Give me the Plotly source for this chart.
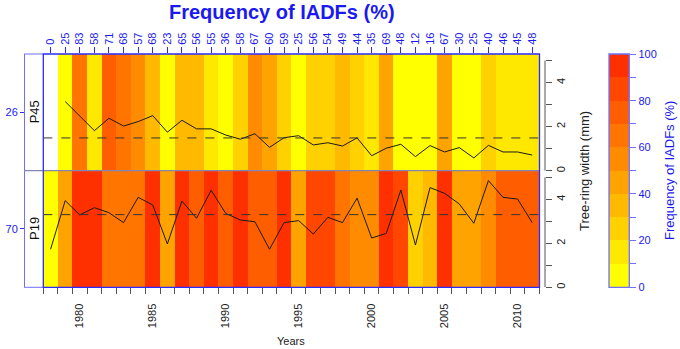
import plotly.graph_objects as go
import numpy as np

# ---------------- data ----------------
years = list(range(1978, 2012))
freq_labels = ["0", "25", "83", "58", "71", "68", "57", "68", "23", "65", "56", "55",
               "36", "58", "67", "60", "59", "25", "56", "54", "49", "44", "35", "69",
               "48", "12", "16", "67", "30", "25", "40", "46", "45", "48"]
trees = ["P45", "P19"]
tree_freq_labels = ["26", "70"]

p45_freq = [None, 5, 65, 15, 75, 68, 52, 35, 0, 32, 37, 12, 0, 22, 57, 45, 22, 5,
            25, 24, 33, 28, 15, 42, 5, 0, 0, 42, 5, 5, 25, 15, 15, 16]
p19_freq = [0, 45, 100, 100, 67, 68, 62, 100, 45, 98, 75, 98, 72, 94, 77, 75, 96, 45,
            87, 84, 65, 58, 55, 96, 88, 24, 32, 94, 48, 45, 55, 77, 75, 79]

p45_width = [None, 3.14, 2.49, 1.82, 2.38, 2.03, 2.23, 2.50, 1.75, 2.29, 1.90, 1.90,
             1.62, 1.43, 1.68, 1.06, 1.50, 1.59, 1.17, 1.27, 1.12, 1.49, 0.68, 1.02,
             1.20, 0.64, 1.14, 0.85, 1.05, 0.58, 1.15, 0.85, 0.85, 0.71]
p19_width = [1.73, 3.94, 3.29, 3.62, 3.39, 2.94, 4.09, 3.74, 1.97, 3.92, 3.14, 4.41,
             3.36, 3.06, 2.98, 1.73, 2.94, 3.03, 2.42, 3.18, 2.94, 4.05, 2.24, 2.45,
             4.42, 1.92, 4.53, 4.27, 3.79, 2.91, 4.85, 4.09, 4.01, 2.94]

cb_ticks = [0, 10, 20, 30, 40, 50, 60, 70, 80, 90, 100]
cb_labels = ["0", "", "20", "", "40", "", "60", "", "80", "", "100"]
width_ticks = [0, 1, 2, 3, 4, 5]
width_labels = ["0", "", "2", "", "4", ""]
bottom_years = [1980, 1985, 1990, 1995, 2000, 2005, 2010]

bin_colors = ["#FFFF00", "#FFE800", "#FFD100", "#FFBA00", "#FFA300",
              "#FF8C00", "#FF7500", "#FF5E00", "#FF4700", "#FF3000"]

# ---------------- styling ----------------
W, H = 680, 349
FONT = "Liberation Sans, Arial, sans-serif"
BLUE = "#2B2BFF"
LBLUE = "#7070FF"
TXTBLUE = "#1A1AF0"

def fx(px):
    return px / W

def fy(py):
    return 1 - py / H

top_dom = [fy(170.7), fy(54)]
bot_dom = [fy(287.3), fy(170.7)]
x_dom = [fx(43.3), fx(539.5)]
YMAX = 5.3

colorscale = []
n = len(bin_colors)
for i, c in enumerate(bin_colors):
    colorscale.append([i / n, c])
    colorscale.append([(i + 1) / n, c])

x_edges = [y - 0.5 for y in years] + [years[-1] + 0.5]

fig = go.Figure()

for freq, ya in [(p45_freq, "y"), (p19_freq, "y2")]:
    fig.add_trace(go.Heatmap(
        z=[freq], x=x_edges, y=[0, YMAX], xaxis="x", yaxis=ya,
        colorscale=colorscale, zmin=0, zmax=100, showscale=False,
        hoverinfo="skip"))

for wid, ya in [(p45_width, "y"), (p19_width, "y2")]:
    fig.add_trace(go.Scatter(
        x=years, y=wid, xaxis="x", yaxis=ya, mode="lines",
        line=dict(color="#1a1a1a", width=1), connectgaps=False,
        hoverinfo="skip", showlegend=False))

# invisible traces to carry the decorative axes
fig.add_trace(go.Scatter(x=[years[0]], y=[1], xaxis="x2", yaxis="y", mode="markers",
                         marker=dict(opacity=0), showlegend=False, hoverinfo="skip"))
fig.add_trace(go.Scatter(x=[years[0]], y=[1], xaxis="x", yaxis="y3", mode="markers",
                         marker=dict(opacity=0), showlegend=False, hoverinfo="skip"))

# colour key
cb_mid = [[(a + b) / 2] for a, b in zip(cb_ticks[:-1], cb_ticks[1:])]
fig.add_trace(go.Heatmap(
    z=cb_mid, x=[0, 1], y=cb_ticks, xaxis="x3", yaxis="y4",
    colorscale=colorscale, zmin=0, zmax=100, showscale=False, hoverinfo="skip"))

shapes = []
for wid, ya in [(p45_width, "y"), (p19_width, "y2")]:
    m = float(np.mean([v for v in wid if v is not None]))
    shapes.append(dict(type="line", xref="x", yref=ya, x0=x_edges[0], x1=x_edges[-1],
                       y0=m, y1=m, line=dict(color="#333333", width=1, dash="dash")))
shapes.append(dict(type="line", xref="paper", yref="paper", x0=fx(24), x1=x_dom[1],
                   y0=top_dom[0], y1=top_dom[0], line=dict(color="#8585B5", width=1.3)))
for yy in [top_dom[1], bot_dom[0]]:
    shapes.append(dict(type="line", xref="paper", yref="paper", x0=fx(24), x1=x_dom[0],
                       y0=yy, y1=yy, line=dict(color=LBLUE, width=1)))
shapes.append(dict(type="rect", xref="paper", yref="paper", x0=x_dom[0], x1=x_dom[1],
                   y0=bot_dom[0], y1=top_dom[1], line=dict(color=BLUE, width=1.3)))
for ya in ["y", "y2"]:
    shapes.append(dict(type="line", xref="paper", yref=ya, x0=fx(545), x1=fx(545),
                       y0=0, y1=5, line=dict(color="#555555", width=1)))
shapes.append(dict(type="rect", xref="paper", yref="paper", x0=fx(609), x1=fx(629.3),
                   y0=bot_dom[0], y1=top_dom[1], line=dict(color=LBLUE, width=1.3)))

annotations = [
    dict(text="<b>Frequency of IADFs (%)</b>", x=fx(282), y=fy(12), xref="paper",
         yref="paper", showarrow=False, font=dict(size=20, color=TXTBLUE, family=FONT),
         xanchor="center", yanchor="middle"),
    dict(text="Years", x=fx(291), y=fy(341), xref="paper", yref="paper",
         showarrow=False, font=dict(size=11, color="#222222", family=FONT),
         xanchor="center", yanchor="middle"),
    dict(text="Tree-ring width (mm)", x=fx(584), y=fy(171), xref="paper", yref="paper",
         showarrow=False, textangle=-90, font=dict(size=13, color="#222222", family=FONT),
         xanchor="center", yanchor="middle"),
    dict(text="Frequency of IADFs (%)", x=fx(669), y=fy(171), xref="paper", yref="paper",
         showarrow=False, textangle=-90, font=dict(size=13, color=TXTBLUE, family=FONT),
         xanchor="center", yanchor="middle"),
]
for name, dom in zip(trees, [top_dom, bot_dom]):
    annotations.append(dict(text=name, x=fx(34), y=(dom[0] + dom[1]) / 2, xref="paper",
                            yref="paper", showarrow=False, textangle=-90,
                            font=dict(size=13, color="#111111", family=FONT),
                            xanchor="center", yanchor="middle"))

common = dict(showgrid=False, zeroline=False, automargin=False)

fig.update_layout(
    template="none",
    width=W, height=H,
    margin=dict(l=0, r=0, t=0, b=0, pad=0, autoexpand=False),
    paper_bgcolor="white", plot_bgcolor="rgba(0,0,0,0)",
    showlegend=False,
    font=dict(family=FONT, size=11, color="#222222"),
    shapes=shapes, annotations=annotations,
    xaxis=dict(domain=x_dom, range=[x_edges[0], x_edges[-1]], anchor="y2", side="bottom",
               showline=False, tickmode="array", tickvals=bottom_years,
               ticktext=[str(y) for y in bottom_years], tickangle=-90,
               ticks="outside", ticklen=11, tickcolor="rgba(0,0,0,0)",
               tickfont=dict(size=11, color="#222222"),
               minor=dict(tickmode="linear", tick0=x_edges[0], dtick=1, ticks="outside",
                          ticklen=6, tickcolor="#555555", showgrid=False), **common),
    xaxis2=dict(overlaying="x", anchor="y", side="top", range=[x_edges[0], x_edges[-1]],
                showline=False, tickmode="array", tickvals=years, ticktext=freq_labels,
                tickangle=-90, ticks="outside", ticklen=6, tickcolor=BLUE,
                tickfont=dict(size=11, color=TXTBLUE), **common),
    xaxis3=dict(domain=[fx(609), fx(629.3)], range=[0, 1], anchor="y4", visible=False,
                **common),
    yaxis=dict(domain=top_dom, range=[0, YMAX], anchor="free", position=fx(545),
               side="right", showline=False, tickmode="array", tickvals=width_ticks,
               ticktext=width_labels, tickangle=-90, ticks="outside", ticklen=6,
               tickcolor="#555555", tickfont=dict(size=11, color="#222222"), **common),
    yaxis2=dict(domain=bot_dom, range=[0, YMAX], anchor="free", position=fx(545),
                side="right", showline=False, tickmode="array", tickvals=width_ticks,
                ticktext=width_labels, tickangle=-90, ticks="outside", ticklen=6,
                tickcolor="#555555", tickfont=dict(size=11, color="#222222"), **common),
    yaxis3=dict(domain=[bot_dom[0], top_dom[1]], range=[0, 2], anchor="free",
                position=fx(24), side="left", showline=True, linecolor=LBLUE,
                linewidth=1, tickmode="array", tickvals=[1.5, 0.5],
                ticktext=tree_freq_labels, ticks="outside", ticklen=4, tickcolor=BLUE,
                tickfont=dict(size=11, color=TXTBLUE), **common),
    yaxis4=dict(domain=[bot_dom[0], top_dom[1]], range=[0, 100], anchor="x3",
                side="right", showline=False, tickmode="array", tickvals=cb_ticks,
                ticktext=cb_labels, ticks="outside", ticklen=6, tickcolor=LBLUE,
                tickfont=dict(size=11, color=TXTBLUE), **common),
)

fig.write_html("out.html", config={"displayModeBar": False, "staticPlot": True},
               post_script="document.body.style.margin='0px';")
